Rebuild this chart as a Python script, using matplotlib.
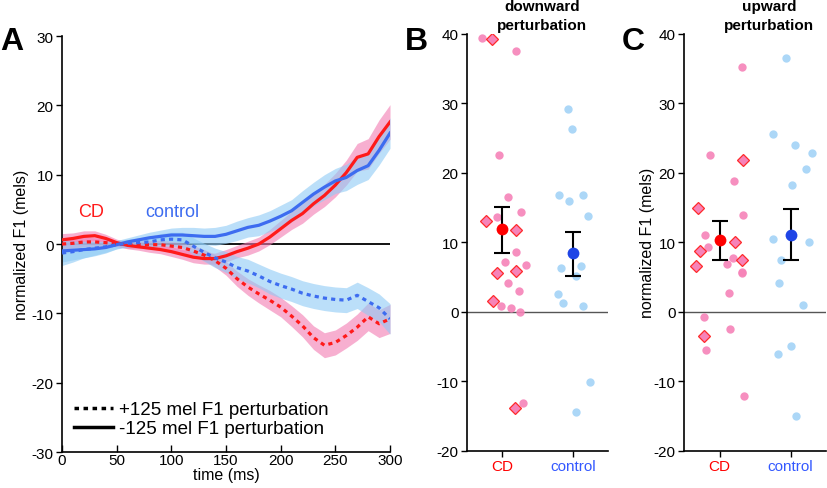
import matplotlib.pyplot as plt
import numpy as np
from matplotlib.lines import Line2D

plt.rcParams['font.family'] = ['Liberation Sans', 'DejaVu Sans']
plt.rcParams['axes.unicode_minus'] = False

# ---- panel A: F1 response over time (10 ms steps) ----
time_ms = np.arange(0, 301, 10)

cd_neg = [0.6, 0.8, 1.1, 1.2, 0.8, 0.2, -0.2, -0.4, -0.6, -0.8, -1.1, -1.5, -1.9, -2.1, -2.1, -1.7,
          -1.1, -0.6, 0.0, 1.0, 2.2, 3.4, 4.4, 5.8, 7.0, 8.5, 10.3, 12.5, 13.0, 15.5, 17.6]
cd_neg_sem = [0.9, 0.8, 0.8, 0.7, 0.6, 0.5, 0.5, 0.5, 0.6, 0.6, 0.7, 0.7, 0.8, 0.8, 0.8, 0.9,
              0.9, 1.0, 1.0, 1.1, 1.2, 1.3, 1.4, 1.5, 1.6, 1.7, 1.8, 2.0, 2.2, 2.4, 2.5]
ctrl_neg = [-1.0, -0.9, -0.8, -0.7, -0.5, -0.1, 0.3, 0.6, 0.9, 1.1, 1.3, 1.3, 1.2, 1.1, 1.1, 1.4,
            1.9, 2.4, 2.7, 3.3, 4.0, 4.8, 6.0, 7.2, 8.2, 9.1, 9.6, 10.6, 11.3, 13.5, 16.0]
ctrl_neg_sem = [1.6, 1.4, 1.2, 1.0, 0.8, 0.6, 0.6, 0.7, 0.8, 0.9, 1.0, 1.1, 1.2, 1.2, 1.3, 1.3,
                1.4, 1.4, 1.5, 1.5, 1.6, 1.6, 1.7, 1.7, 1.8, 1.8, 1.9, 2.0, 2.0, 2.1, 2.2]
cd_pos = [0.0, 0.1, 0.3, 0.3, 0.2, 0.0, -0.1, -0.1, -0.1, -0.1, -0.3, -0.5, -1.0, -1.6, -2.4, -3.5,
          -5.0, -6.2, -7.2, -8.1, -9.1, -10.4, -11.8, -13.5, -14.6, -14.2, -13.2, -12.0, -10.5, -11.5, -10.8]
cd_pos_sem = [0.8, 0.7, 0.7, 0.6, 0.5, 0.4, 0.5, 0.5, 0.6, 0.6, 0.7, 0.7, 0.8, 0.8, 0.9, 1.0,
              1.1, 1.2, 1.3, 1.4, 1.4, 1.5, 1.6, 1.7, 1.8, 1.8, 1.8, 1.9, 2.0, 2.0, 2.1]
ctrl_pos = [-1.3, -1.1, -0.8, -0.6, -0.4, -0.1, 0.1, 0.2, 0.3, 0.6, 0.7, 0.6, -0.3, -1.2, -2.0, -2.6,
            -3.4, -3.9, -4.6, -5.4, -6.0, -6.5, -7.1, -7.5, -7.8, -8.0, -8.1, -7.4, -8.3, -9.2, -10.8]
ctrl_pos_sem = [1.8, 1.5, 1.2, 1.0, 0.8, 0.6, 0.6, 0.7, 0.8, 0.9, 1.0, 1.1, 1.2, 1.3, 1.4, 1.5,
                1.6, 1.7, 1.7, 1.8, 1.8, 1.8, 1.8, 1.8, 1.8, 1.8, 1.8, 1.9, 2.0, 2.0, 2.2]

# ---- panel B: downward perturbation, individual subjects ----
b_cd_x = [0.71, 1.195, 0.96, 1.08, 0.92, 1.27, 1.195, 1.04, 1.34, 1.08, 1.24, 0.98, 1.12, 1.25, 1.29]
b_cd_y = [39.4, 37.5, 22.5, 16.5, 13.6, 14.4, 8.6, 7.2, 6.7, 4.2, 3.0, 0.8, 0.6, 0.0, -13.2]
b_cdd_x = [0.85, 0.77, 1.2, 0.92, 1.2, 0.87, 1.18]
b_cdd_y = [39.2, 13.1, 11.8, 5.6, 5.8, 1.5, -13.9]
b_ctrl_x = [1.935, 1.99, 1.81, 1.94, 2.14, 2.22, 1.83, 2.12, 2.04, 1.79, 1.86, 2.14, 2.24, 2.05]
b_ctrl_y = [29.2, 26.3, 16.8, 16.0, 16.8, 13.7, 6.25, 6.6, 5.1, 2.5, 1.2, 0.8, -10.1, -14.4]
b_mean = [11.9, 8.4]
b_lo = [8.5, 5.1]
b_hi = [15.1, 11.5]

# ---- panel C: upward perturbation ----
c_cd_x = [1.31, 0.86, 1.2, 1.335, 0.79, 0.84, 1.11, 1.19, 1.31, 1.315, 1.13, 0.78, 1.15, 0.81, 1.34]
c_cd_y = [35.2, 22.5, 18.75, 13.9, 11.0, 9.3, 6.8, 7.7, 5.7, 5.6, 2.7, -0.7, -2.5, -5.5, -12.2]
c_cdd_x = [1.33, 0.69, 0.73, 0.67, 1.22, 1.31, 0.78]
c_cdd_y = [21.8, 14.9, 8.7, 6.6, 10.0, 7.5, -3.5]
c_ctrl_x = [1.94, 1.76, 2.06, 2.30, 2.22, 2.02, 1.76, 2.26, 1.87, 1.84, 2.18, 2.0, 1.83, 2.08]
c_ctrl_y = [36.5, 25.6, 24.0, 22.9, 20.5, 18.3, 10.4, 10.1, 7.5, 4.2, 0.9, -4.9, -6.1, -15.0]
c_mean = [10.3, 11.1]
c_lo = [7.45, 7.4]
c_hi = [13.1, 14.8]

groups = ['CD', 'control']

RED = '#ff1a1a'
BLUE = '#3d6cf0'
PINK_BAND = '#f27bb2'
BLUE_BAND = '#8fcbf5'
PINK_DOT = '#f683b8'
BLUE_DOT = '#a3d3f7'

fig = plt.figure(figsize=(8.27, 4.89), dpi=100)
axA = fig.add_axes([0.075, 0.0736, 0.3966, 0.8507])
axB = fig.add_axes([0.5647, 0.0763, 0.1705, 0.8527])
axC = fig.add_axes([0.8271, 0.0763, 0.1717, 0.8527])

dash = (0, (1.3, 1.3))
series = [
    (cd_neg, cd_neg_sem, RED, PINK_BAND, '-'),
    (ctrl_neg, ctrl_neg_sem, BLUE, BLUE_BAND, '-'),
    (cd_pos, cd_pos_sem, RED, PINK_BAND, dash),
    (ctrl_pos, ctrl_pos_sem, BLUE, BLUE_BAND, dash),
]
axA.axhline(0, color='black', lw=1.3, zorder=1)
for vals, sem, col, band, ls in series:
    vals = np.array(vals)
    sem = np.array(sem)
    axA.fill_between(time_ms, vals - sem, vals + sem, color=band, alpha=0.6, lw=0, zorder=2)
    axA.plot(time_ms, vals, color=col, lw=2.3, ls=ls, zorder=3)

axA.set_xlim(0, 300)
axA.set_ylim(-30, 30)
axA.set_xticks(range(0, 301, 50))
axA.set_yticks(range(-30, 31, 10))
axA.set_xlabel('time (ms)', fontsize=11.5, labelpad=0)
axA.set_ylabel('normalized F1 (mels)', fontsize=11.5)
axA.yaxis.set_label_coords(-0.1, 0.5)
axA.text(14.5, 4.7, 'CD', color=RED, fontsize=13, ha='left', va='center')
axA.text(76, 4.7, 'control', color=BLUE, fontsize=13, ha='left', va='center')
handles = [Line2D([], [], color='black', lw=2.5, ls=dash),
           Line2D([], [], color='black', lw=2.5)]
axA.legend(handles, ['+125 mel F1 perturbation', '-125 mel F1 perturbation'],
           loc='lower left', bbox_to_anchor=(0.035, 0.035), frameon=False, fontsize=13.5,
           handlelength=2.1, handletextpad=0.3, labelspacing=0.1, borderpad=0, borderaxespad=0)


def dot_panel(ax, cx, cy, dx, dy, kx, ky, mean, lo, hi):
    ax.axhline(0, color='#555555', lw=1, zorder=1)
    ax.plot(cx, cy, 'o', color=PINK_DOT, ms=6, mew=0, alpha=0.9, zorder=2)
    ax.plot(dx, dy, 'D', mfc=PINK_DOT, mec='#ff2a2a', ms=6, mew=0.9, zorder=2)
    ax.plot(kx, ky, 'o', color=BLUE_DOT, ms=6, mew=0, alpha=0.9, zorder=2)
    xs = [1, 2]
    err = [np.array(mean) - np.array(lo), np.array(hi) - np.array(mean)]
    ax.errorbar(xs, mean, yerr=err, fmt='none', ecolor='black', elinewidth=1.5,
                capsize=6, capthick=1.5, zorder=3)
    ax.plot([1], [mean[0]], 'o', color='#ff0000', ms=8.5, mew=0, zorder=4)
    ax.plot([2], [mean[1]], 'o', color='#1f45e6', ms=8.5, mew=0, zorder=4)
    ax.set_xlim(0.5, 2.5)
    ax.set_ylim(-20, 40)
    ax.set_yticks(range(-20, 41, 10))
    ax.set_xticks(xs)
    ax.set_xticklabels(groups, fontsize=13.3)
    ax.get_xticklabels()[0].set_color('#ff0000')
    ax.get_xticklabels()[1].set_color('#3358ff')


dot_panel(axB, b_cd_x, b_cd_y, b_cdd_x, b_cdd_y, b_ctrl_x, b_ctrl_y, b_mean, b_lo, b_hi)
dot_panel(axC, c_cd_x, c_cd_y, c_cdd_x, c_cdd_y, c_ctrl_x, c_ctrl_y, c_mean, c_lo, c_hi)
axC.set_ylabel('normalized F1 (mels)', fontsize=11.5)
axC.yaxis.set_label_coords(-0.205, 0.5)

axB.text(0.53, 1.005, 'downward\nperturbation', transform=axB.transAxes, ha='center', va='bottom',
         fontsize=11, fontweight='bold', linespacing=1.45)
axC.text(0.60, 1.005, 'upward\nperturbation', transform=axC.transAxes, ha='center', va='bottom',
         fontsize=11, fontweight='bold', linespacing=1.45)

for ax in (axA, axB, axC):
    for side in ('top', 'right'):
        ax.spines[side].set_visible(False)
    for side in ('left', 'bottom'):
        ax.spines[side].set_linewidth(1.2)
    ax.tick_params(direction='out', length=4, width=1, labelsize=11, pad=2)
axA.tick_params(axis='x', direction='in', length=5, pad=1)

for lbl, xpx in (('A', 0), ('B', 405), ('C', 622)):
    fig.text(xpx / 827, 1 - 50 / 489, lbl, fontsize=23, fontweight='bold', ha='left', va='baseline')

fig.savefig('out.png', dpi=100)
